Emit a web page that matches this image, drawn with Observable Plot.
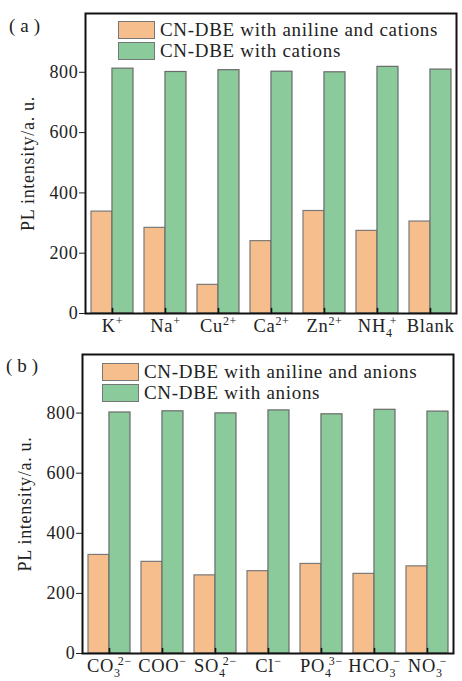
<!DOCTYPE html>
<html><head><meta charset="utf-8">
<script src="https://cdn.jsdelivr.net/npm/d3@7"></script>
<script src="https://cdn.jsdelivr.net/npm/@observablehq/plot@0.6"></script>
<style>
body{margin:0;background:#fff;font-family:"Liberation Serif",serif;color:#222;}
#wrap{position:relative;width:462px;height:681px;overflow:hidden;}
.panel{position:absolute;left:0;width:462px;}
.panel svg{overflow:visible;}
.tag{position:absolute;font-size:19px;letter-spacing:5px;line-height:1;}
.leg{position:absolute;font-size:19px;line-height:1;letter-spacing:0.7px;}
.leg .row{display:flex;align-items:center;height:21px;}
.sw{width:37px;height:18px;border:1.2px solid #777;margin-right:5px;box-sizing:border-box;}
</style></head><body>
<div id="wrap"></div>
<script>
const cationCats = ["K^+","Na^+","Cu^2+","Ca^2+","Zn^2+","NH_4^+","Blank"];
const cationWithAniline = [338,284,95,240,340,274,305];
const cationOnly = [812,801,807,802,800,818,809];
const anionCats = ["CO_3^2−","COO^−","SO_4^2−","Cl^−","PO_4^3−","HCO_3^−","NO_3^−"];
const anionWithAniline = [328,305,260,274,298,265,290];
const anionOnly = [802,806,799,809,796,811,805];
const seriesA = ["CN-DBE with aniline and cations","CN-DBE with cations"];
const seriesB = ["CN-DBE with aniline and anions","CN-DBE with anions"];
const yTicks = [0,200,400,600,800];
const colors = ["#F6BE8D","#8BCB9B"];
const yLabel = "PL intensity/a. u.";

const W = 462;
const wrap = document.getElementById("wrap");

function makePanel(o){
  const rows = [];
  o.cats.forEach((c,i)=>{
    rows.push({cat:c, s:0, v:o.v1[i]});
    rows.push({cat:c, s:1, v:o.v2[i]});
  });
  const xOpts = {domain:o.cats, paddingInner:0.21, paddingOuter:0.1};
  const bw = Plot.scale({x:{type:"band", ...xOpts, range:[o.mL, W-o.mR]}}).bandwidth;
  const half = bw/2;
  const chart = Plot.plot({
    width: W, height: o.height,
    marginLeft:o.mL, marginRight:o.mR, marginTop:o.mT, marginBottom:o.mB,
    style:{fontFamily:"Liberation Serif, serif", fontSize:"18px", color:"#222", background:"transparent", letterSpacing:"0.7px", overflow:"visible"},
    x:{...xOpts, label:null},
    y:{domain:[0,995], label:null},
    marks:[
      Plot.barY(rows.filter(d=>d.s===0), {x:"cat", y:"v", fill:colors[0], stroke:"#7a7a7a", strokeWidth:1.2, insetLeft:0, insetRight:half}),
      Plot.barY(rows.filter(d=>d.s===1), {x:"cat", y:"v", fill:colors[1], stroke:"#6a6a6a", strokeWidth:1.2, insetLeft:half, insetRight:0}),
      Plot.vector(o.cats, {x:d=>d, frameAnchor:"bottom", length:5, rotate:0, anchor:"start",
        shape:{draw(c,l){c.moveTo(0,0);c.lineTo(0,-l);}}, stroke:"#111", strokeWidth:1.6}),
      Plot.axisY({ticks:yTicks, tickSize:6, tickPadding:1, tickFormat:d=>String(d), label:yLabel, labelAnchor:"center", labelOffset:64, labelArrow:"none", fontSize:18}),
      Plot.axisX({tickSize:0, tickPadding:5, label:null, fontSize:18.5}),
      Plot.frame({stroke:"#111", strokeWidth:2})
    ]
  });
  // rich tick labels with sub/superscripts
  chart.querySelectorAll('[aria-label="x-axis tick label"] text').forEach(t=>{
    const s = t.textContent;
    const m = s.match(/^([A-Za-z]+)(?:_(\d))?(?:\^(.+))?$/);
    if(!m) return;
    t.textContent = "";
    const ns = "http://www.w3.org/2000/svg";
    const b = document.createElementNS(ns,"tspan"); b.textContent = m[1]; t.appendChild(b);
    if(m[2]){
      const sb = document.createElementNS(ns,"tspan"); sb.textContent = m[2];
      sb.setAttribute("font-size","12"); sb.setAttribute("dy","5"); t.appendChild(sb);
    }
    if(m[3]){
      const sp = document.createElementNS(ns,"tspan"); sp.textContent = m[3];
      sp.setAttribute("font-size","12");
      if(m[2]){ sp.setAttribute("dx","-3"); sp.setAttribute("dy","-12"); }
      else sp.setAttribute("dy","-7");
      t.appendChild(sp);
    }
  });
  const panel = document.createElement("div");
  panel.className = "panel"; panel.style.top = o.top+"px"; panel.style.height = o.height+"px";
  panel.appendChild(chart);
  const tag = document.createElement("div");
  tag.className = "tag"; tag.textContent = o.tag; tag.style.left = o.tagLeft+"px"; tag.style.top = "16px";
  panel.appendChild(tag);
  const leg = document.createElement("div");
  leg.className = "leg"; leg.style.left = o.legLeft+"px"; leg.style.top = o.legTop+"px";
  o.series.forEach((name,i)=>{
    const r = document.createElement("div"); r.className="row";
    const sw = document.createElement("div"); sw.className="sw"; sw.style.background = colors[i];
    const tx = document.createElement("span"); tx.textContent = name;
    r.appendChild(sw); r.appendChild(tx); leg.appendChild(r);
  });
  panel.appendChild(leg);
  wrap.appendChild(panel);
}

makePanel({cats:cationCats, v1:cationWithAniline, v2:cationOnly, series:seriesA, tag:"(a)", tagLeft:9,
  top:0, height:340, mL:85, mR:6, mT:13, mB:27, legLeft:118, legTop:19});
makePanel({cats:anionCats, v1:anionWithAniline, v2:anionOnly, series:seriesB, tag:"(b)", tagLeft:6,
  top:340, height:341, mL:82, mR:9, mT:14, mB:28, legLeft:102, legTop:21});
</script>
</body></html>
